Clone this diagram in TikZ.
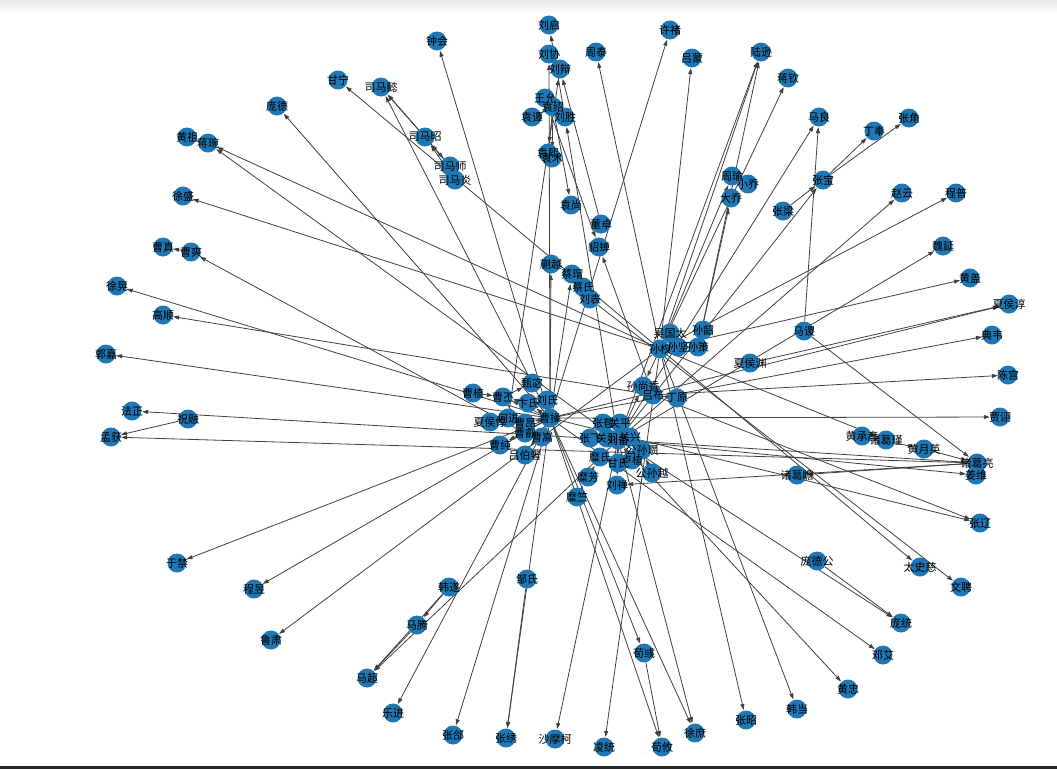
\documentclass[tikz,border=0pt]{standalone}
\usepackage{fontspec}
\newfontfamily\cjk{Noto Sans CJK SC}
\usepackage{tikz}
\usetikzlibrary{arrows.meta}
\definecolor{nxblue}{HTML}{1F77B4}
\pgfdeclarelayer{background}
\pgfdeclarelayer{foreground}
\pgfsetlayers{background,main,foreground}

\def\people{%
liuqi/549/25/刘启, xuchu/670/30/许褚, zhonghui/437/41/钟会, liuxie/549/54/刘协,
zhoutai/596/52/周泰, lvmeng/692/58/吕蒙, luxun/761/52/陆逊, liubian/560/69/刘辩,
ganning/338/80/甘宁, simayi/381/87/司马懿, jiangqin/788/78/蒋钦, wangyun/545/98/王允,
yuanshao/553/107/袁绍, liusheng/565/117/刘胜, yuantan/532/117/袁谭, yuanxi/548/153/袁熙,
yuanshu/552/158/袁术, yuanshang/571/205/袁尚, simazhao/425/137/司马昭, simashi/450/166/司马师,
simayan/455/180/司马炎, pangde/277/106/庞德, huangzu/187/137/黄祖, jiangwan/208/143/蒋琬,
xusheng/183/196/徐盛, caozhen/163/247/曹真, caoshuang/191/252/曹爽, xuhuang/117/286/徐晃,
gaoshun/163/315/高顺, guojia/106/354/郭嘉, fazheng/132/411/法正, zhurong/188/419/祝融,
menghuo/111/437/孟获, maliang/819/117/马良, zhouyu/732/176/周瑜, xiaoqiao/748/184/小乔,
daqiao/731/198/大乔, zhangbao/823/180/张宝, zhangliang/783/211/张梁, dongzhuo/601/224/董卓,
diaochan/599/247/貂蝉, zhangjiao/909/118/张角, dingfeng/874/131/丁奉, zhaoyun/902/193/赵云,
chengpu/956/193/程普, weiyan/943/246/魏延, huanggai/970/278/黄盖, xiahouchun/1009/304/夏侯淳,
dianwei/992/335/典韦, chengong/1008/375/陈宫, jiaxu/1000/417/贾诩, masu/804/331/马谡,
xiahouyuan/750/363/夏侯渊, huangchengyan/862/436/黄承彦, zhugejin/886/440/诸葛瑾,
huangyueying/924/449/黄月英, zhugeliang/977/463/诸葛亮, jiangwei/976/475/姜维,
zhugezhan/797/475/诸葛瞻, zhangliao/980/523/张辽, wuguotai/670/333/吴国太, sunquan/660/349/孙权,
sunjian/678/347/孙坚, sunshao/703/330/孙韶, sunce/698/347/孙策, sunshangxiang/643/386/孙尚香,
lvbu/653/395/吕布, dingyuan/677/398/丁原, zhangbao2/603/423/张苞, guanping/620/423/关平,
zhangfei/590/438/张飞, guanyu/607/438/关羽, liubei/618/440/刘备, guanxing/630/437/关兴,
gongsunzan/642/450/公孙瓒, mishi/600/457/糜氏, ganshi/618/463/甘氏, luzhi/632/460/卢植,
gongsunyue/652/473/公孙越, liushan/617/485/刘禅, mifang/588/477/糜芳, mizhu/577/497/糜竺,
caozhi/473/393/曹植, caopi/503/397/曹丕, zhenmi/532/383/甄宓, bianshi/528/403/卞氏,
liushi/547/400/刘氏, xiahoudun/490/422/夏侯惇, hejin/508/418/何进, caoang/525/423/曹昂,
caocao/550/418/曹操, caorui/525/433/曹叡, caosong/542/437/曹嵩, caochun/500/445/曹纯,
lvboshe/525/455/吕伯奢, hansui/449/587/韩遂, mateng/417/625/马腾, zoushi/527/579/邹氏,
zhanghe/453/735/张郃, zhangxiu/506/738/张绣, shamoke/555/739/沙摩柯, lingtong/604/747/凌统,
xunyu/644/653/荀彧, xunyou/662/747/荀攸, xushu/695/733/徐庶, yujin/177/563/于禁,
chengyu/254/589/程昱, lusu/271/640/鲁肃, machao/367/678/马超, lejin/393/713/乐进,
pangdegong/817/561/庞德公, taishici/920/567/太史慈, wenpin/961/587/文聘, pangtong/901/623/庞统,
dengai/883/655/邓艾, huangzhong/848/689/黄忠, handang/797/709/韩当, zhangzhao/746/720/张昭,
liubiao/590/299/刘表, caimao/572/274/蔡瑁, kuaiyue/551/264/蒯越, caishi/583/287/蔡氏}

\def\links{%
caocao/pangde, caocao/zhonghui, caocao/xuchu, caocao/xuhuang, caocao/guojia, caocao/yujin,
caocao/chengyu, caocao/lejin, caocao/zhanghe, caocao/zhangxiu, caocao/xunyu, caocao/xunyou,
caocao/xushu, caocao/dengai, caocao/zhangliao, caocao/jiaxu, caocao/dianwei, caocao/xiahouchun,
caocao/caopi, caocao/caoang, caocao/bianshi, caocao/liushi, caocao/xiahoudun, caocao/lvboshe,
caocao/liuxie, caocao/simayi, caocao/caochun, caocao/kuaiyue, caocao/caimao,
caozhi/caopi, caopi/caorui, caopi/zhenmi,
bianshi/caopi, caosong/caocao, caorui/caoshuang, caoshuang/caozhen, hejin/liubian,
dongzhuo/liubian, sunquan/jiangwan, sunquan/xusheng, sunquan/lusu, sunquan/lingtong,
sunquan/zhangzhao, sunquan/handang, sunquan/taishici, sunquan/huanggai, sunquan/chengpu,
sunquan/luxun, sunquan/lvmeng, sunquan/zhoutai, sunquan/ganning, sunquan/jiangqin,
sunquan/zhugejin, sunquan/sunshangxiang, sunquan/zhouyu, sunjian/sunquan, sunjian/sunce,
wuguotai/sunquan, sunce/sunshao, sunce/luxun, sunce/daqiao, zhouyu/xiaoqiao,
liubei/jiangwan, liubei/fazheng, liubei/shamoke, liubei/xushu, liubei/huangzhong,
liubei/pangtong, liubei/weiyan, liubei/zhaoyun, liubei/maliang, liubei/machao,
liubei/zhugeliang, liubei/jiangwei, liubei/guanyu, liubei/zhangfei, liubei/liushan,
liubei/ganshi, liubei/liusheng, liubei/luxun, liubei/zhangbao, liubei/sunshangxiang,
lvbu/gaoshun, lvbu/chengong, lvbu/zhangliao, lvbu/diaochan, dingyuan/lvbu, wangyun/diaochan,
zhugeliang/menghuo, zhugeliang/liushan, zhugeliang/zhugezhan, zhugeliang/jiangwei,
zhurong/menghuo, huangchengyan/huangyueying, huangyueying/zhugeliang, masu/zhugeliang,
masu/maliang, zhangliang/zhangbao, zhangbao/zhangjiao, zhangbao/dingfeng,
zhangfei/zhangbao2, guanyu/guanping, guanyu/guanxing, mizhu/mifang, mifang/mishi,
gongsunyue/gongsunzan, luzhi/liubei, liusheng/liuqi, yuanshao/yuantan, yuanshao/yuanxi,
yuanshao/yuanshang, yuanshao/yuanshu, simazhao/simayi, simashi/simayi, simazhao/simashi,
simashi/simazhao, simayan/simazhao, jiangwan/huangzu, hansui/mateng, mateng/machao,
hansui/machao, zoushi/zhangxiu, xunyu/xunyou, pangdegong/pangtong, liubiao/wenpin,
caishi/liubiao, xiahouyuan/xiahouchun}

\begin{document}
\begin{tikzpicture}[x=1pt, y=-1pt,
    person/.style={circle, fill=nxblue, draw=none, inner sep=0pt, minimum size=19pt},
    plabel/.style={font=\cjk\fontsize{11}{11}\selectfont, inner sep=0pt, text=black},
    rel/.style={draw=black!75, line width=0.8pt, -{Triangle[length=6pt,width=4pt]}, shorten >=0.5pt}]
    \useasboundingbox (0,0) rectangle (1057,769);
    \shade[top color=gray!18, bottom color=white] (0,0) rectangle (1057,14);
    \fill[black!85] (0,766) rectangle (1057,769);

    \foreach \id/\x/\y/\t in \people {
        \node[person] (\id) at (\x,\y) {};
    }
    \begin{pgfonlayer}{foreground}
    \foreach \id/\x/\y/\t in \people {
        \node[plabel] at (\id) {\t};
    }
    \end{pgfonlayer}
    \begin{pgfonlayer}{background}
    \foreach \a/\b in \links {
        \draw[rel] (\a) -- (\b);
    }
    \end{pgfonlayer}
\end{tikzpicture}
\end{document}
